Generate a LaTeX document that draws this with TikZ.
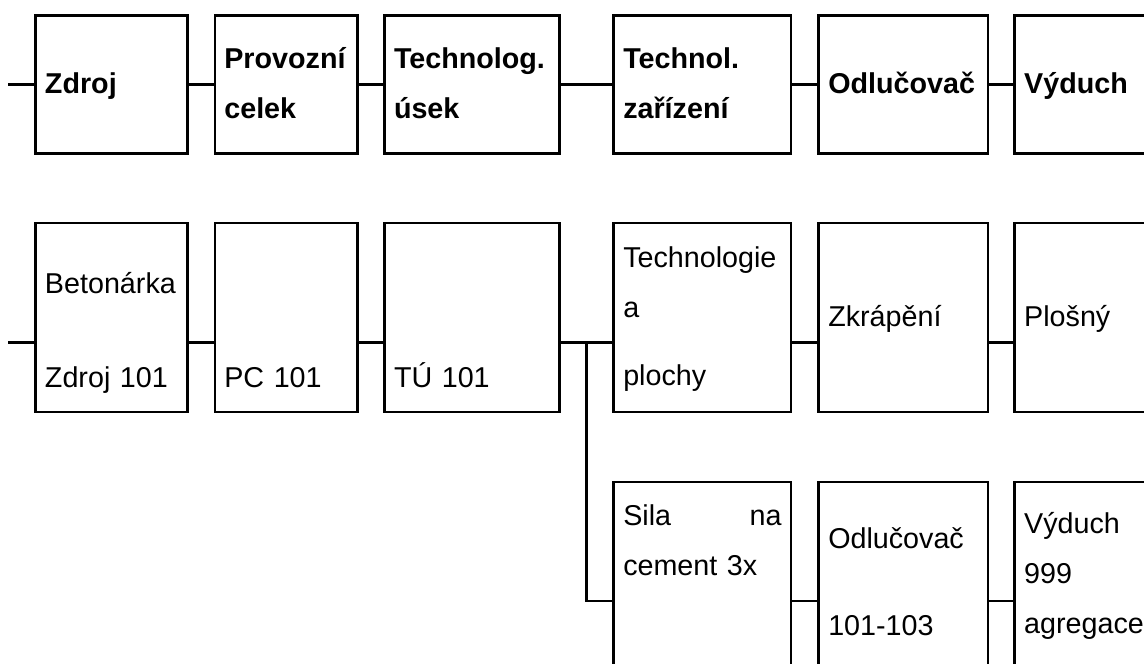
\documentclass[tikz,border=0pt]{standalone}
\usepackage{fontspec}
\setmainfont{Liberation Sans}
\usepackage{tikz}

\tikzset{
    unit/.style={draw, line width=2.7pt, align=left, inner sep=0pt, text height=21pt, minimum height=189pt, font=\fontsize{28.7}{50}\selectfont},
    head/.style={unit, minimum height=138pt, font=\bfseries\fontsize{28.7}{50}\selectfont},
    link/.style={line width=2.7pt}
}

\begin{document}
\begin{tikzpicture}[x=1pt, y=-1pt]

    \useasboundingbox (0,0) rectangle (1144,664);
    \clip (0,0) rectangle (1144,664);

    % Header row
    \node[head, minimum width=152pt, text width=133pt, text depth=3pt] (zdroj) at (111.5, 84.3) {Zdroj};
    \node[head, minimum width=142.7pt, text width=123.7pt, text depth=53pt] (celek) at (286.2, 84.3) {Provozní\\celek};
    \node[head, minimum width=175.2pt, text width=156.2pt, text depth=53pt] (usek) at (472.1, 84.3) {Technolog.\\úsek};
    \node[head, minimum width=177.3pt, text width=158.3pt, text depth=53pt] (zarizeni) at (702.4, 84.3) {Technol.\\zařízení};
    \node[head, minimum width=169.3pt, text width=150.3pt, text depth=3pt] (odlucovac) at (903.4, 84.3) {Odlučovač};
    \node[head, minimum width=170pt, text width=151pt, text depth=3pt] (vyduch) at (1099.7, 84.3) {Výduch};

    % Source row
    \node[unit, minimum width=152pt, text width=133pt, text depth=69.8pt] (beton) at (111.5, 317.4) {Betonárka\\[44pt]Zdroj 101};
    \node[unit, minimum width=142.7pt, text width=123.7pt, text depth=69.8pt] (pc) at (286.2, 317.4) {\mbox{}\\[44pt]PC 101};
    \node[unit, minimum width=175.2pt, text width=156.2pt, text depth=69.8pt] (tu) at (472.1, 317.4) {\mbox{}\\[44pt]TÚ 101};
    \node[unit, minimum width=177.3pt, text width=158.3pt, text depth=121.8pt] (plochy) at (702.4, 317.4) {Technologie\\a\\[18pt]plochy};
    \node[unit, minimum width=169.3pt, text width=150.3pt, text depth=2.4pt] (zkrap) at (903.4, 317.4) {Zkrápění};
    \node[unit, minimum width=170pt, text width=151pt, text depth=2.4pt] (plosny) at (1099.7, 317.4) {Plošný};

    % Branch row
    \node[unit, minimum width=177.3pt, text width=158.3pt, text depth=124pt] (sila) at (702.4, 576.5) {Sila\hfill na\\cement 3x};
    \node[unit, minimum width=169.3pt, text width=150.3pt, text depth=77.4pt] (odl) at (903.4, 576.5) {Odlučovač\\[37pt]101-103};
    \node[unit, minimum width=170pt, text width=151pt, text depth=107.4pt] (agreg) at (1099.7, 576.5) {Výduch\\999\\agregace};

    % Connections
    \coordinate (inA) at (8, 84.3);
    \coordinate (inB) at (8, 342.5);
    \coordinate (split) at (586.5, 342.5);
    \coordinate (inC) at (586.5, 601);

    \draw[link] (inA) -- (zdroj.west);
    \draw[link] (zdroj.east) -- (celek.west);
    \draw[link] (celek.east) -- (usek.west);
    \draw[link] (usek.east) -- (zarizeni.west);
    \draw[link] (zarizeni.east) -- (odlucovac.west);
    \draw[link] (odlucovac.east) -- (vyduch.west);

    \draw[link] (inB) -- (beton.west |- inB);
    \draw[link] (beton.east |- inB) -- (pc.west |- inB);
    \draw[link] (pc.east |- inB) -- (tu.west |- inB);
    \draw[link] (tu.east |- inB) -- (plochy.west |- inB);
    \draw[link] (plochy.east |- inB) -- (zkrap.west |- inB);
    \draw[link] (zkrap.east |- inB) -- (plosny.west |- inB);

    \draw[link] (split) |- (sila.west |- inC);
    \draw[link] (sila.east |- inC) -- (odl.west |- inC);
    \draw[link] (odl.east |- inC) -- (agreg.west |- inC);

\end{tikzpicture}
\end{document}
